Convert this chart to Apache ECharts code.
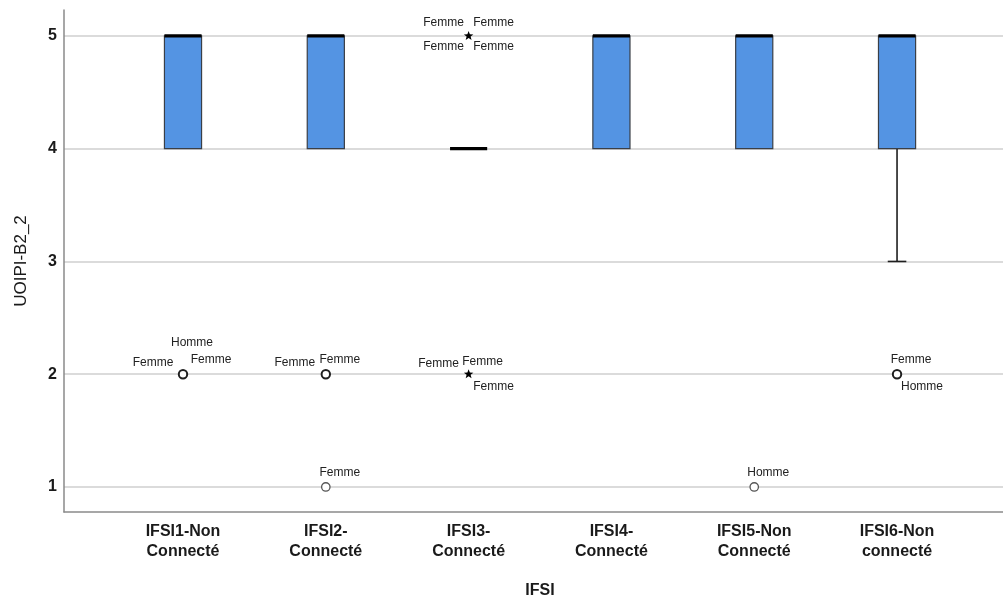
<!DOCTYPE html>
<html><head><meta charset="utf-8">
<script src="https://cdn.jsdelivr.net/npm/echarts@6/dist/echarts.min.js"></script>
<style>html,body{margin:0;padding:0;background:#fff}#c{width:1003px;height:601px}</style>
</head><body><div id="c"></div>
<script>
// ---- data ----
const categories = ['IFSI1-Non\nConnecté', 'IFSI2-\nConnecté', 'IFSI3-\nConnecté', 'IFSI4-\nConnecté', 'IFSI5-Non\nConnecté', 'IFSI6-Non\nconnecté'];
const whiskerLow  = [4, 4, 4, 4, 4, 3];
const q1          = [4, 4, 4, 4, 4, 4];
const median      = [5, 5, 4, 5, 5, 5];
const q3          = [5, 5, 4, 5, 5, 5];
const whiskerHigh = [5, 5, 4, 5, 5, 5];
const yTicks = [1, 2, 3, 4, 5];

const outlierCategory = [0, 1, 1, 2, 2, 4, 5];
const outlierValue    = [2, 2, 1, 5, 2, 1, 2];
const outlierKind     = ['circle', 'circle', 'circle', 'star', 'star', 'circle', 'circle'];
const outlierCases    = [
  ['Homme', 'Femme', 'Femme'],
  ['Femme', 'Femme'],
  ['Femme'],
  ['Femme', 'Femme', 'Femme', 'Femme'],
  ['Femme', 'Femme', 'Femme'],
  ['Homme'],
  ['Femme', 'Homme']
];

// ---- label placement (pixel offsets from each outlier mark; layout only) ----
const caseLabelOffsets = [
  [[9, -32], [-30, -12], [28, -15]],
  [[-31, -12], [14, -15]],
  [[14, -14]],
  [[-25, -13], [25, -13], [-25, 11], [25, 11]],
  [[-30, -11], [14, -13], [25, 12]],
  [[14, -14]],
  [[14, -15], [25, 12]]
];

const FONT = '"Liberation Sans", Arial, sans-serif';

const boxData = categories.map((c, i) => [i, whiskerLow[i], q1[i], median[i], q3[i], whiskerHigh[i]]);
const outlierData = outlierValue.map((v, i) => [outlierCategory[i], v, i]);

function starPoints(cx, cy, R, r) {
  const pts = [];
  for (let k = 0; k < 10; k++) {
    const a = -Math.PI / 2 + k * Math.PI / 5;
    const rr = k % 2 === 0 ? R : r;
    pts.push([cx + rr * Math.cos(a), cy + rr * Math.sin(a)]);
  }
  return pts;
}

const chart = echarts.init(document.getElementById('c'), null, {renderer: 'canvas'});
chart.setOption({
  animation: false,
  backgroundColor: '#ffffff',
  grid: {left: 64, right: 0, top: 10, bottom: 89, containLabel: false},
  xAxis: {
    type: 'value', min: -0.8333, max: 5.742,
    axisLine: {show: true, onZero: false, lineStyle: {color: '#8a8a8a', width: 1.5}},
    axisTick: {show: false, customValues: [0, 1, 2, 3, 4, 5]},
    splitLine: {show: false},
    axisLabel: {
      customValues: [0, 1, 2, 3, 4, 5],
      formatter: v => categories[Math.round(v)] || '',
      fontFamily: FONT, fontSize: 16, fontWeight: 'bold', color: '#1a1a1a',
      lineHeight: 20, margin: 10
    }
  },
  yAxis: {
    type: 'value', min: 0.778, max: 5.23,
    name: 'UOIPI-B2_2', nameLocation: 'middle', nameGap: 34,
    nameTextStyle: {fontFamily: FONT, fontSize: 17, color: '#1a1a1a'},
    axisLine: {show: true, onZero: false, lineStyle: {color: '#8a8a8a', width: 1.5}},
    axisTick: {show: false, customValues: yTicks},
    axisLabel: {customValues: yTicks, fontFamily: FONT, fontSize: 16, fontWeight: 'bold', color: '#1a1a1a', margin: 7},
    splitLine: {show: true, lineStyle: {color: '#cfcfcf', width: 1.5}}
  },
  graphic: [{
    type: 'text', x: 540, y: 591,
    style: {text: 'IFSI', fontFamily: FONT, fontSize: 16, fontWeight: 'bold', fill: '#1a1a1a', align: 'center', verticalAlign: 'middle'}
  }],
  series: [
    {
      type: 'custom', data: boxData, clip: false, z: 3,
      renderItem: function (params, api) {
        const x = api.value(0);
        const pLow = api.coord([x, api.value(1)]);
        const pQ1 = api.coord([x, api.value(2)]);
        const pMed = api.coord([x, api.value(3)]);
        const pQ3 = api.coord([x, api.value(4)]);
        const pHigh = api.coord([x, api.value(5)]);
        const cx = pMed[0];
        const bw = api.size([1, 0])[0] * 0.26;
        const half = bw / 2;
        const children = [];
        const ws = {stroke: '#1f1f1f', lineWidth: 1.6};
        if (pLow[1] - pQ1[1] > 0.5) {
          children.push({type: 'line', shape: {x1: cx, y1: pQ1[1], x2: cx, y2: pLow[1]}, style: ws});
          children.push({type: 'line', shape: {x1: cx - half / 2, y1: pLow[1], x2: cx + half / 2, y2: pLow[1]}, style: ws});
        }
        if (pQ3[1] - pHigh[1] > 0.5) {
          children.push({type: 'line', shape: {x1: cx, y1: pQ3[1], x2: cx, y2: pHigh[1]}, style: ws});
          children.push({type: 'line', shape: {x1: cx - half / 2, y1: pHigh[1], x2: cx + half / 2, y2: pHigh[1]}, style: ws});
        }
        if (pQ1[1] - pQ3[1] > 0.5) {
          children.push({type: 'rect', shape: {x: cx - half, y: pQ3[1], width: bw, height: pQ1[1] - pQ3[1]},
            style: {fill: '#5494e3', stroke: '#3a3f47', lineWidth: 1.2}});
        }
        children.push({type: 'line', shape: {x1: cx - half, y1: pMed[1], x2: cx + half, y2: pMed[1]},
          style: {stroke: '#000000', lineWidth: 3.2}});
        return {type: 'group', children: children};
      }
    },
    {
      type: 'custom', data: outlierData, clip: false, z: 4,
      renderItem: function (params, api) {
        const idx = api.value(2);
        const p = api.coord([api.value(0), api.value(1)]);
        const children = [];
        const n = outlierCases[idx].length;
        if (outlierKind[idx] === 'star') {
          children.push({type: 'polygon', shape: {points: starPoints(p[0], p[1], 5, 2.1)}, style: {fill: '#000'}});
        } else {
          children.push({type: 'circle', shape: {cx: p[0], cy: p[1], r: 4.2},
            style: {fill: '#fff', stroke: n > 1 ? '#1f1f1f' : '#555', lineWidth: n > 1 ? 2 : 1.3}});
        }
        outlierCases[idx].forEach((t, k) => {
          const off = caseLabelOffsets[idx][k];
          children.push({type: 'text', x: p[0] + off[0], y: p[1] + off[1],
            style: {text: t, fontFamily: FONT, fontSize: 12, fill: '#222', align: 'center', verticalAlign: 'middle'}});
        });
        return {type: 'group', children: children};
      }
    }
  ]
});
</script>
</body></html>
